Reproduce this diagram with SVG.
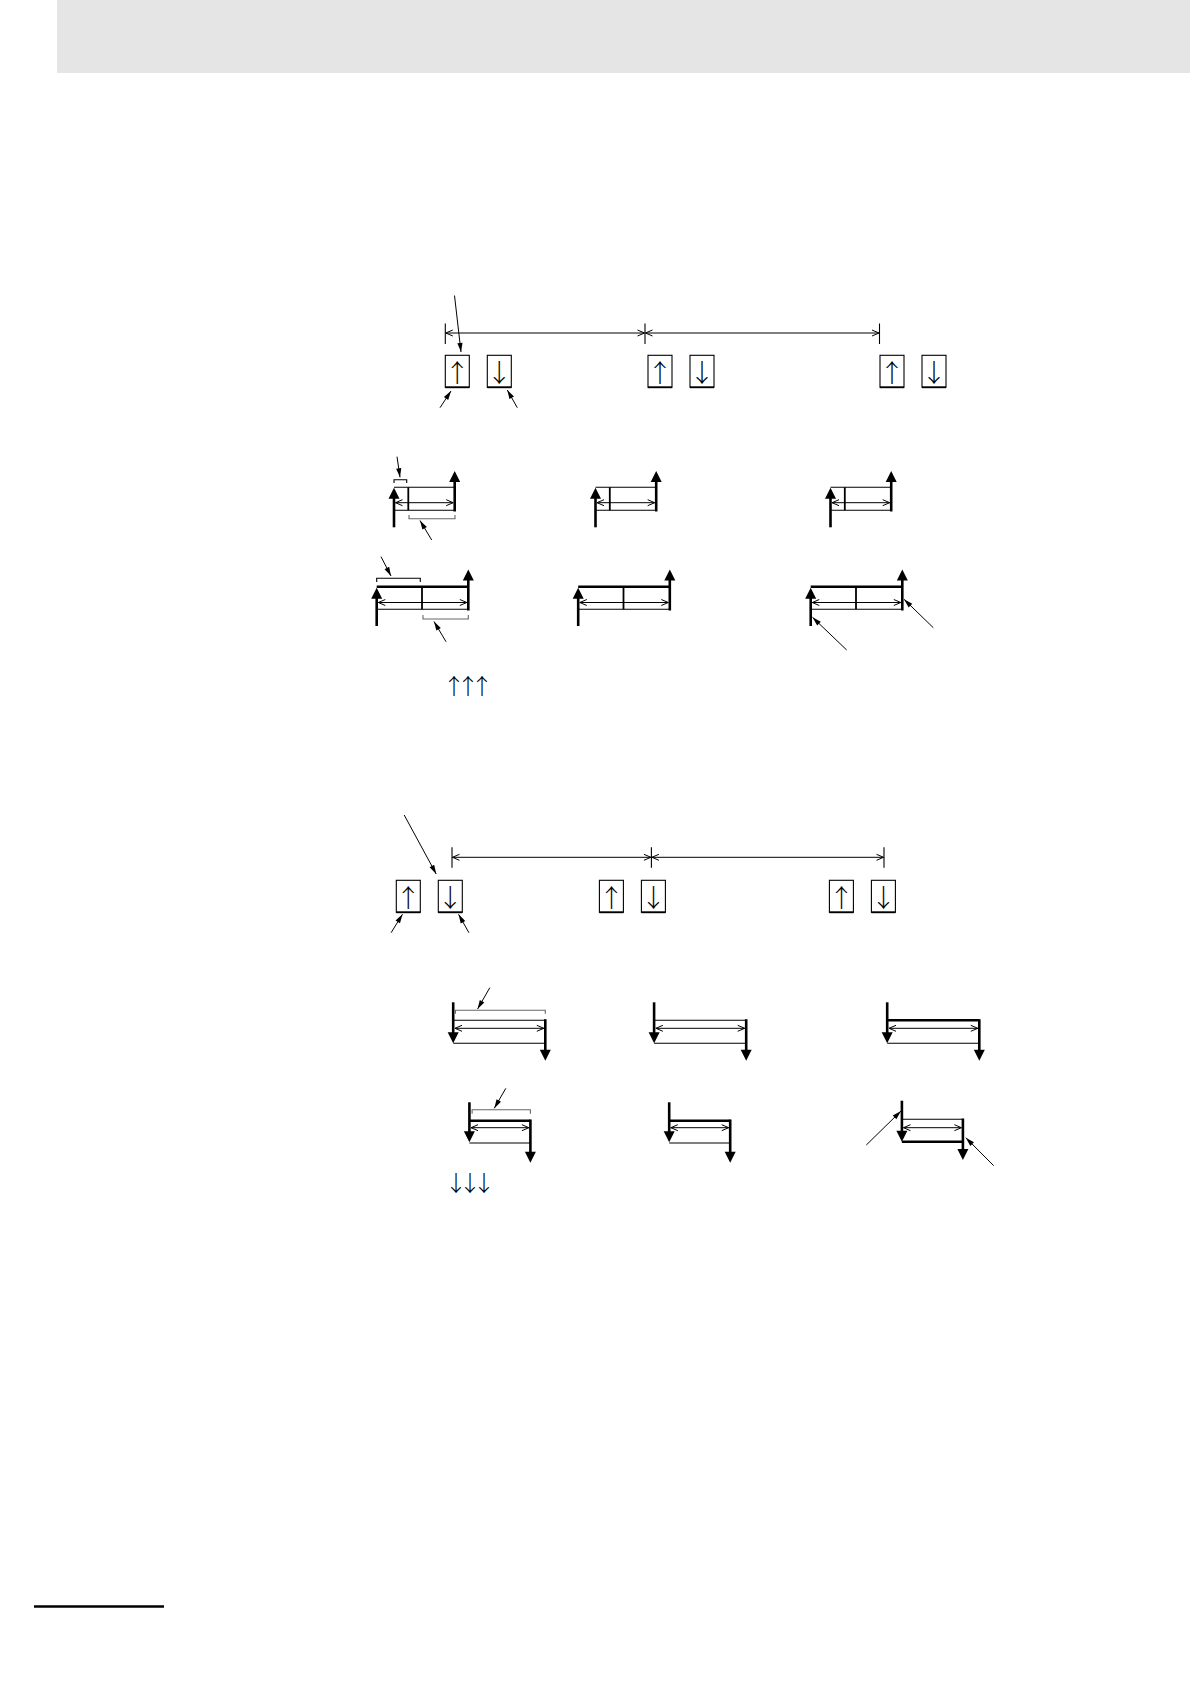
<svg xmlns="http://www.w3.org/2000/svg" xmlns:xlink="http://www.w3.org/1999/xlink" width="1190" height="1684" viewBox="0 0 1190 1684">
<style>
.thin{stroke:#000;stroke-width:1.1;fill:none}
.bold{stroke:#000;stroke-width:2.6;fill:none}
.med{stroke:#000;stroke-width:1.8;fill:none}
.gray{stroke:#666;stroke-width:1.1;fill:none}
.dim{stroke:#000;stroke-width:1;fill:none;marker-start:url(#chev);marker-end:url(#chev)}
.lead{stroke:#000;stroke-width:1;fill:none;marker-end:url(#lh)}
.box{stroke:#000;stroke-width:1.1;fill:#fff}
.glyph{font-family:"Noto Sans CJK JP","DejaVu Sans",sans-serif;font-size:25px;font-weight:300;fill:#000;text-anchor:middle}
.small{font-family:"Noto Sans CJK JP","DejaVu Sans",sans-serif;font-size:22px;font-weight:300;fill:#000;letter-spacing:-8px}
</style>
<defs>
<marker id="chev" viewBox="-8 -4 9 8" refX="0" refY="0" markerWidth="9" markerHeight="8" markerUnits="userSpaceOnUse" orient="auto-start-reverse">
<path d="M-7,-3 L0,0 L-7,3" fill="none" stroke="#000" stroke-width="1"/>
</marker>
<marker id="lh" viewBox="-10 -3 11 6" refX="0" refY="0" markerWidth="11" markerHeight="6" markerUnits="userSpaceOnUse" orient="auto">
<path d="M-9,-2.6 L0,0 L-9,2.6 z" fill="#000"/>
</marker>
<path id="hu" d="M0,0 L-5.5,11 L5.5,11 z" fill="#000"/>
<path id="hd" d="M0,0 L-5.5,-11 L5.5,-11 z" fill="#000"/>
</defs>

<g id="header">
<rect x="57" y="0" width="1133" height="73" fill="#e5e5e5"/>
</g>

<!-- ================= SECTION 1 ================= -->
<g id="s1-timeline">
<line class="thin" x1="445.3" y1="323.5" x2="445.3" y2="344"/>
<line class="thin" x1="645" y1="323.5" x2="645" y2="344"/>
<line class="thin" x1="879.5" y1="323.5" x2="879.5" y2="344"/>
</g>
<g id="s1-boxes">
<g id="s1-box1"><rect class="box" x="445.3" y="355.3" width="24" height="32"/><line class="med" x1="445.3" y1="387.3" x2="469.3" y2="387.3"/><text class="glyph" x="457.3" y="382">↑</text></g>
<g id="s1-box2"><rect class="box" x="487.3" y="355.3" width="24" height="32"/><line class="med" x1="487.3" y1="387.3" x2="511.3" y2="387.3"/><text class="glyph" x="499.3" y="382">↓</text></g>
<g id="s1-box3"><rect class="box" x="648" y="355.3" width="24" height="32"/><line class="med" x1="648" y1="387.3" x2="672" y2="387.3"/><text class="glyph" x="660" y="382">↑</text></g>
<g id="s1-box4"><rect class="box" x="690" y="355.3" width="24" height="32"/><line class="med" x1="690" y1="387.3" x2="714" y2="387.3"/><text class="glyph" x="702" y="382">↓</text></g>
<g id="s1-box5"><rect class="box" x="880" y="355.3" width="24" height="32"/><line class="med" x1="880" y1="387.3" x2="904" y2="387.3"/><text class="glyph" x="892" y="382">↑</text></g>
<g id="s1-box6"><rect class="box" x="922" y="355.3" width="24" height="32"/><line class="med" x1="922" y1="387.3" x2="946" y2="387.3"/><text class="glyph" x="934" y="382">↓</text></g>
</g>

<!-- row 1 diagrams -->
<g id="s1-r1-d1">
<line class="thin" x1="394" y1="487.3" x2="454.7" y2="487.3"/>
<line class="thin" x1="394" y1="510.3" x2="454.7" y2="510.3"/>
<line class="med" x1="408.3" y1="487.3" x2="408.3" y2="510.3"/>
<line class="bold" x1="394" y1="527.3" x2="394" y2="495"/><use xlink:href="#hu" x="394" y="487.7"/>
<line class="bold" x1="454.7" y1="511.5" x2="454.7" y2="478"/><use xlink:href="#hu" x="454.7" y="471"/>
<path class="thin" d="M394,483 V479.7 H406.7 V483"/>
<path class="gray" d="M409,515 V518.7 H455 V515"/>
</g>
<g id="s1-r1-d2" transform="translate(201.5,0)">
<line class="thin" x1="394" y1="487.3" x2="454.7" y2="487.3"/>
<line class="thin" x1="394" y1="510.3" x2="454.7" y2="510.3"/>
<line class="med" x1="408.3" y1="487.3" x2="408.3" y2="510.3"/>
<line class="bold" x1="394" y1="527.3" x2="394" y2="495"/><use xlink:href="#hu" x="394" y="487.7"/>
<line class="bold" x1="454.7" y1="511.5" x2="454.7" y2="478"/><use xlink:href="#hu" x="454.7" y="471"/>
</g>
<g id="s1-r1-d3" transform="translate(436.5,0)">
<line class="thin" x1="394" y1="487.3" x2="454.7" y2="487.3"/>
<line class="thin" x1="394" y1="510.3" x2="454.7" y2="510.3"/>
<line class="med" x1="408.3" y1="487.3" x2="408.3" y2="510.3"/>
<line class="bold" x1="394" y1="527.3" x2="394" y2="495"/><use xlink:href="#hu" x="394" y="487.7"/>
<line class="bold" x1="454.7" y1="511.5" x2="454.7" y2="478"/><use xlink:href="#hu" x="454.7" y="471"/>
</g>

<!-- row 2 diagrams -->
<g id="s1-r2-d1">
<line class="bold" x1="376.7" y1="586.7" x2="468.3" y2="586.7"/>
<line class="thin" x1="376.7" y1="609.3" x2="468.3" y2="609.3"/>
<line class="med" x1="422" y1="586.7" x2="422" y2="609.3"/>
<line class="bold" x1="376.7" y1="626" x2="376.7" y2="595"/><use xlink:href="#hu" x="376.7" y="587.7"/>
<line class="bold" x1="468.3" y1="610.5" x2="468.3" y2="577"/><use xlink:href="#hu" x="468.3" y="569.5"/>
<path class="thin" d="M376.7,582 V578.3 H420.3 V582"/>
<path class="gray" d="M423,615 V619 H468.3 V615"/>
</g>
<g id="s1-r2-d2" transform="translate(201.5,0)">
<line class="bold" x1="376.7" y1="586.7" x2="468.3" y2="586.7"/>
<line class="thin" x1="376.7" y1="609.3" x2="468.3" y2="609.3"/>
<line class="med" x1="422" y1="586.7" x2="422" y2="609.3"/>
<line class="bold" x1="376.7" y1="626" x2="376.7" y2="595"/><use xlink:href="#hu" x="376.7" y="587.7"/>
<line class="bold" x1="468.3" y1="610.5" x2="468.3" y2="577"/><use xlink:href="#hu" x="468.3" y="569.5"/>
</g>
<g id="s1-r2-d3" transform="translate(434,0)">
<line class="bold" x1="376.7" y1="586.7" x2="468.3" y2="586.7"/>
<line class="thin" x1="376.7" y1="609.3" x2="468.3" y2="609.3"/>
<line class="med" x1="422" y1="586.7" x2="422" y2="609.3"/>
<line class="bold" x1="376.7" y1="626" x2="376.7" y2="595"/><use xlink:href="#hu" x="376.7" y="587.7"/>
<line class="bold" x1="468.3" y1="610.5" x2="468.3" y2="577"/><use xlink:href="#hu" x="468.3" y="569.5"/>
</g>
<g id="s1-symbols">
<text class="small" x="443" y="694">↑↑↑</text>
</g>

<!-- ================= SECTION 2 ================= -->
<g id="s2-timeline">
<line class="thin" x1="452" y1="847.3" x2="452" y2="867.7"/>
<line class="thin" x1="651.4" y1="847.3" x2="651.4" y2="867.7"/>
<line class="thin" x1="884" y1="847.3" x2="884" y2="867.7"/>
</g>
<g id="s2-boxes">
<g id="s2-box1"><rect class="box" x="396.3" y="880.3" width="24" height="32"/><line class="med" x1="396.3" y1="912.3" x2="420.3" y2="912.3"/><text class="glyph" x="408.3" y="907">↑</text></g>
<g id="s2-box2"><rect class="box" x="438.3" y="880.3" width="24" height="32" stroke-width="1.6"/><line class="med" x1="438.3" y1="912.3" x2="462.3" y2="912.3"/><text class="glyph" x="450.3" y="907">↓</text></g>
<g id="s2-box3"><rect class="box" x="599.4" y="880.3" width="24" height="32"/><line class="med" x1="599.4" y1="912.3" x2="623.4" y2="912.3"/><text class="glyph" x="611.4" y="907">↑</text></g>
<g id="s2-box4"><rect class="box" x="641.4" y="880.3" width="24" height="32"/><line class="med" x1="641.4" y1="912.3" x2="665.4" y2="912.3"/><text class="glyph" x="653.4" y="907">↓</text></g>
<g id="s2-box5"><rect class="box" x="829.4" y="880.3" width="24" height="32"/><line class="med" x1="829.4" y1="912.3" x2="853.4" y2="912.3"/><text class="glyph" x="841.4" y="907">↑</text></g>
<g id="s2-box6"><rect class="box" x="871.4" y="880.3" width="24" height="32"/><line class="med" x1="871.4" y1="912.3" x2="895.4" y2="912.3"/><text class="glyph" x="883.4" y="907">↓</text></g>
</g>

<!-- row 1 -->
<g id="s2-r1-d1">
<line class="thin" x1="453.2" y1="1020.3" x2="545.3" y2="1020.3"/>
<line class="thin" x1="453.2" y1="1043.3" x2="545.3" y2="1043.3"/>
<line class="bold" x1="453.2" y1="1002.3" x2="453.2" y2="1036"/><use xlink:href="#hd" x="453.2" y="1043.3"/>
<line class="bold" x1="545.3" y1="1019.2" x2="545.3" y2="1053"/><use xlink:href="#hd" x="545.3" y="1060.7"/>
<path class="gray" d="M455.4,1013.7 V1010.3 H545.3 V1013.7"/>
</g>
<g id="s2-r1-d2" transform="translate(200.9,0)">
<line class="thin" x1="453.2" y1="1020.3" x2="545.3" y2="1020.3"/>
<line class="thin" x1="453.2" y1="1043.3" x2="545.3" y2="1043.3"/>
<line class="bold" x1="453.2" y1="1002.3" x2="453.2" y2="1036"/><use xlink:href="#hd" x="453.2" y="1043.3"/>
<line class="bold" x1="545.3" y1="1019.2" x2="545.3" y2="1053"/><use xlink:href="#hd" x="545.3" y="1060.7"/>
</g>
<g id="s2-r1-d3" transform="translate(434,0)">
<line class="bold" x1="453.2" y1="1020.3" x2="545.3" y2="1020.3"/>
<line class="thin" x1="453.2" y1="1043.3" x2="545.3" y2="1043.3"/>
<line class="bold" x1="453.2" y1="1002.3" x2="453.2" y2="1036"/><use xlink:href="#hd" x="453.2" y="1043.3"/>
<line class="bold" x1="545.3" y1="1019.2" x2="545.3" y2="1053"/><use xlink:href="#hd" x="545.3" y="1060.7"/>
</g>

<!-- row 2 -->
<g id="s2-r2-d1">
<line class="bold" x1="469.4" y1="1120.7" x2="530.4" y2="1120.7"/>
<line class="thin" x1="469.4" y1="1143" x2="530.4" y2="1143"/>
<line class="bold" x1="469.4" y1="1102.3" x2="469.4" y2="1135"/><use xlink:href="#hd" x="469.4" y="1142.3"/>
<line class="bold" x1="530.4" y1="1119.5" x2="530.4" y2="1155"/><use xlink:href="#hd" x="530.4" y="1162.7"/>
<path class="gray" d="M472.1,1113.7 V1109.7 H530.4 V1113.7"/>
</g>
<g id="s2-r2-d2" transform="translate(199.8,0)">
<line class="bold" x1="469.4" y1="1120.7" x2="530.4" y2="1120.7"/>
<line class="thin" x1="469.4" y1="1143" x2="530.4" y2="1143"/>
<line class="bold" x1="469.4" y1="1102.3" x2="469.4" y2="1135"/><use xlink:href="#hd" x="469.4" y="1142.3"/>
<line class="bold" x1="530.4" y1="1119.5" x2="530.4" y2="1155"/><use xlink:href="#hd" x="530.4" y="1162.7"/>
</g>
<g id="s2-r2-d3" transform="translate(432.5,0)">
<line class="thin" x1="469.4" y1="1119.3" x2="530.4" y2="1119.3"/>
<line class="bold" x1="469.4" y1="1141.7" x2="530.4" y2="1141.7"/>
<line class="bold" x1="469.4" y1="1100.7" x2="469.4" y2="1134"/><use xlink:href="#hd" x="469.4" y="1141.7"/>
<line class="bold" x1="530.4" y1="1118.5" x2="530.4" y2="1152.5"/><use xlink:href="#hd" x="530.4" y="1160"/>
</g>
<g id="s2-symbols">
<text class="small" x="445" y="1191">↓↓↓</text>
</g>

<!-- ================= CONNECTORS ================= -->
<g id="connectors">
<line class="dim" x1="445.8" y1="333" x2="644.5" y2="333"/>
<line class="dim" x1="645.5" y1="333" x2="879" y2="333"/>
<line class="lead" x1="454.5" y1="295.5" x2="461" y2="352"/>
<line class="lead" x1="440" y1="407.7" x2="451" y2="391"/>
<line class="lead" x1="517.3" y1="407.7" x2="507.3" y2="390"/>
<line class="dim" x1="395.5" y1="502.7" x2="453.2" y2="502.7"/>
<line class="dim" x1="597" y1="502.7" x2="654.7" y2="502.7"/>
<line class="dim" x1="832" y1="502.7" x2="889.7" y2="502.7"/>
<line class="lead" x1="397" y1="456.7" x2="400" y2="477.3"/>
<line class="lead" x1="431.7" y1="540" x2="420" y2="520.5"/>
<line class="dim" x1="378.3" y1="602.5" x2="466.8" y2="602.5"/>
<line class="dim" x1="579.8" y1="602.5" x2="668.3" y2="602.5"/>
<line class="dim" x1="812.3" y1="602.5" x2="900.8" y2="602.5"/>
<line class="lead" x1="381" y1="556.7" x2="391" y2="576"/>
<line class="lead" x1="446" y1="641.7" x2="434" y2="621.5"/>
<line class="lead" x1="846.7" y1="650" x2="812.5" y2="617.3"/>
<line class="lead" x1="933.3" y1="627.7" x2="904" y2="599.3"/>
<line class="dim" x1="452.5" y1="857.3" x2="650.9" y2="857.3"/>
<line class="dim" x1="651.9" y1="857.3" x2="883.5" y2="857.3"/>
<line class="lead" x1="404.2" y1="815" x2="436.2" y2="874"/>
<line class="lead" x1="391.1" y1="932.7" x2="402.5" y2="914.3"/>
<line class="lead" x1="468.9" y1="932.7" x2="458.6" y2="914.3"/>
<line class="dim" x1="455" y1="1028.3" x2="543.8" y2="1028.3"/>
<line class="dim" x1="655.9" y1="1028.3" x2="744.7" y2="1028.3"/>
<line class="dim" x1="889" y1="1028.3" x2="977.8" y2="1028.3"/>
<line class="lead" x1="489.8" y1="987.7" x2="477.6" y2="1009"/>
<line class="dim" x1="471" y1="1127.7" x2="528.9" y2="1127.7"/>
<line class="dim" x1="670.8" y1="1127.7" x2="728.7" y2="1127.7"/>
<line class="dim" x1="903.5" y1="1127.7" x2="961.4" y2="1127.7"/>
<line class="lead" x1="505.8" y1="1088.3" x2="494.3" y2="1108.3"/>
<line class="lead" x1="866.3" y1="1145" x2="901" y2="1111"/>
<line class="lead" x1="993.7" y1="1165.7" x2="965.8" y2="1137.7"/>
</g>

<g id="footer">
<line x1="34" y1="1606.5" x2="164" y2="1606.5" stroke="#000" stroke-width="2.5"/>
</g>
</svg>
